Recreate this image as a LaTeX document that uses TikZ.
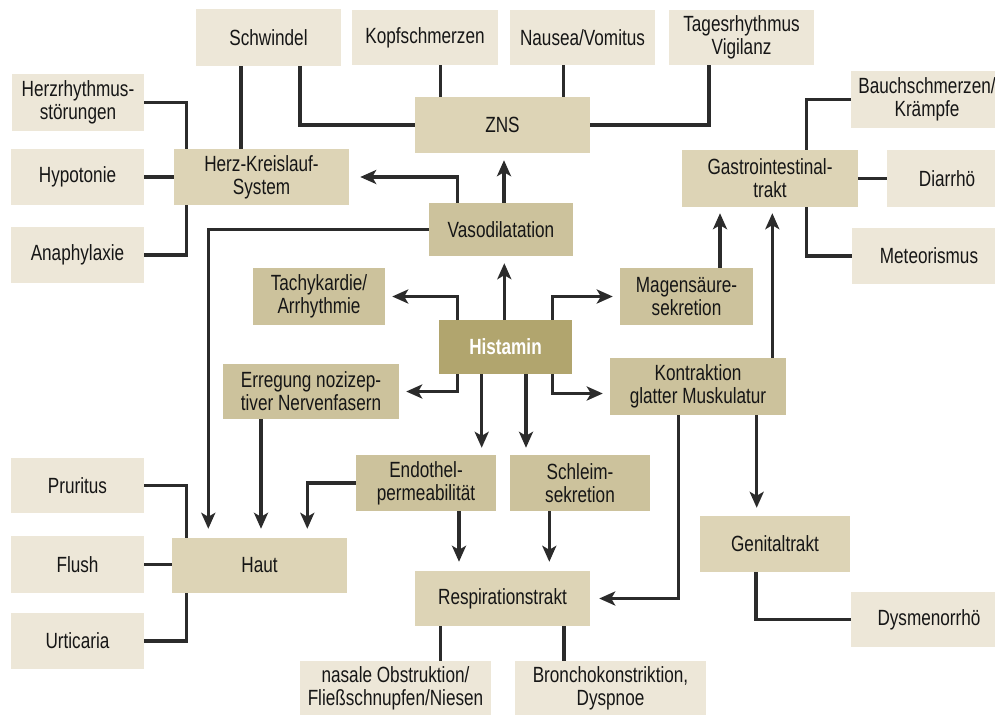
\documentclass[tikz,border=0pt]{standalone}
\usepackage{fontspec}
\setmainfont{Liberation Sans}[FakeStretch=0.78]
\usetikzlibrary{arrows.meta}
\definecolor{symc}{HTML}{EDE7D8}
\definecolor{orgc}{HTML}{DDD4B6}
\definecolor{mechc}{HTML}{CCC29C}
\definecolor{histc}{HTML}{B1A56E}
\definecolor{linec}{HTML}{2B2B2B}
\definecolor{txtc}{HTML}{161616}
\tikzset{
  box/.style={inner sep=0pt, align=center, text=txtc, font=\fontsize{22}{23}\selectfont},
  sym/.style={box, fill=symc},
  org/.style={box, fill=orgc},
  mech/.style={box, fill=mechc},
  histbox/.style={box, fill=histc, text=white, font=\fontsize{22}{23}\selectfont\bfseries},
  ln/.style={draw=linec, line width=3.2pt},
  arr/.style={ln, -{Stealth[length=16pt,width=14pt,inset=4pt]}, shorten >=7pt},
}
\begin{document}
\begin{tikzpicture}[x=1pt,y=-1pt]
\useasboundingbox (0,0) rectangle (995,715);
% outer symptom boxes
\node[sym, minimum width=145pt, minimum height=57pt] (schw) at (268.5,37.5) {Schwindel};
\node[sym, minimum width=146pt, minimum height=55pt] (kopf) at (425,37.5) {Kopfschmerzen};
\node[sym, minimum width=145pt, minimum height=55pt] (naus) at (582.5,37.5) {Nausea/Vomitus};
\node[sym, minimum width=145pt, minimum height=55pt] (tages) at (741.5,37.5) {Tagesrhythmus\\Vigilanz};
\node[sym, minimum width=132pt, minimum height=57pt] (hrs) at (78,102.5) {Herzrhythmus-\\störungen};
\node[sym, minimum width=133pt, minimum height=56pt] (hypo) at (77.5,177) {Hypotonie};
\node[sym, minimum width=133pt, minimum height=56pt] (ana) at (77.5,255) {Anaphylaxie};
\node[sym, minimum width=152pt, minimum height=57pt] (bauch) at (927,99.5) {Bauchschmerzen/\\Krämpfe};
\node[sym, minimum width=120pt, minimum height=57pt] (diar) at (947,178.5) {Diarrhö};
\node[sym, minimum width=154pt, minimum height=56pt] (meteo) at (929,256) {Meteorismus};
\node[sym, minimum width=133pt, minimum height=55pt] (prur) at (77.5,485.5) {Pruritus};
\node[sym, minimum width=133pt, minimum height=57pt] (flush) at (77.5,564.5) {Flush};
\node[sym, minimum width=133pt, minimum height=56pt] (urt) at (77.5,641) {Urticaria};
\node[sym, minimum width=191pt, minimum height=54pt] (nasal) at (395.5,688) {nasale Obstruktion/\\Fließschnupfen/Niesen};
\node[sym, minimum width=191pt, minimum height=54pt] (bronch) at (610.5,688) {Bronchokonstriktion,\\Dyspnoe};
\node[sym, minimum width=156pt, minimum height=55pt] (dysm) at (929,619.5) {Dysmenorrhö};
% organ boxes
\node[org, minimum width=175pt, minimum height=56pt] (hk) at (261.5,177) {Herz-Kreislauf-\\System};
\node[org, minimum width=175pt, minimum height=56pt] (zns) at (502.5,125) {ZNS};
\node[org, minimum width=176pt, minimum height=57pt] (gi) at (770,178.5) {Gastrointestinal-\\trakt};
\node[org, minimum width=175pt, minimum height=55pt] (haut) at (259.5,565.5) {Haut};
\node[org, minimum width=175pt, minimum height=55pt] (resp) at (502.5,598.5) {Respirationstrakt};
\node[org, minimum width=150pt, minimum height=56pt] (genit) at (775,544) {Genitaltrakt};
% mechanism boxes
\node[mech, minimum width=144pt, minimum height=53pt] (vaso) at (501,229.5) {Vasodilatation};
\node[mech, minimum width=132pt, minimum height=57pt] (tachy) at (319,296.5) {Tachykardie/\\Arrhythmie};
\node[mech, minimum width=133pt, minimum height=57pt] (magen) at (686.5,296.5) {Magensäure-\\sekretion};
\node[mech, minimum width=176pt, minimum height=55pt] (erreg) at (311,391.5) {Erregung nozizep-\\tiver Nervenfasern};
\node[mech, minimum width=176pt, minimum height=57pt] (kontr) at (698,386.5) {Kontraktion\\glatter Muskulatur};
\node[mech, minimum width=140pt, minimum height=56pt] (endo) at (426,483) {Endothel-\\permeabilität};
\node[mech, minimum width=140pt, minimum height=56pt] (schl) at (580,483) {Schleim-\\sekretion};
\node[histbox, minimum width=133pt, minimum height=54pt] (hist) at (505.5,347) {Histamin};
% plain connectors
\draw[ln] (schw.south -| 241,0) -- (hk.north -| 241,0);
\draw[ln] (schw.south -| 300,0) |- (zns.west);
\draw[ln] (kopf.south -| 440.7,0) -- (zns.north -| 440.7,0);
\draw[ln] (naus.south -| 563.3,0) -- (zns.north -| 563.3,0);
\draw[ln] (tages.south -| 709,0) |- (zns.east);
\draw[ln] (hrs.east) -| (hk.north -| 186.7,0);
\draw[ln] (hypo.east) -- (hk.west);
\draw[ln] (ana.east) -| (hk.south -| 186.7,0);
\draw[ln] (bauch.west) -| (gi.north -| 806.7,0);
\draw[ln] (diar.west) -- (gi.east);
\draw[ln] (meteo.west) -| (gi.south -| 806.7,0);
\draw[ln] (prur.east) -| (haut.north -| 186.7,0);
\draw[ln] (flush.east) -- (flush.east -| haut.west);
\draw[ln] (urt.east) -| (haut.south -| 186.7,0);
\draw[ln] (resp.south -| 440.7,0) -- (nasal.north -| 440.7,0);
\draw[ln] (resp.south -| 564,0) -- (bronch.north -| 564,0);
\draw[ln] (dysm.west) -| (genit.south -| 756,0);
% arrows
\draw[arr, shorten >=11pt] (vaso.north -| 457.3,0) |- (hk.east);
\draw[arr] (vaso.north -| 504,0) -- (zns.south -| 504,0);
\draw[arr, shorten >=9pt] (vaso.west) -| (haut.north -| 208.3,0);
\draw[arr] (hist.north -| 504.3,0) -- (vaso.south -| 504.3,0);
\draw[arr] (hist.north -| 457.7,0) |- (tachy.east);
\draw[arr] (hist.north -| 552.3,0) |- (magen.west);
\draw[arr] (hist.south -| 457.7,0) |- (erreg.east);
\draw[arr] (hist.south -| 552.3,0) |- ([yshift=-7pt]kontr.west);
\draw[arr] (hist.south -| 481.7,0) -- (endo.north -| 481.7,0);
\draw[arr] (hist.south -| 526,0) -- (schl.north -| 526,0);
\draw[arr, shorten >=6pt] (magen.north -| 720,0) -- (gi.south -| 720,0);
\draw[arr, shorten >=6pt] (kontr.north -| 772.3,0) -- (gi.south -| 772.3,0);
\draw[arr, shorten >=8pt] (kontr.south -| 756.7,0) -- (genit.north -| 756.7,0);
\draw[arr, shorten >=9pt] (kontr.south -| 678.3,0) |- (resp.east);
\draw[arr, shorten >=9pt] (erreg.south -| 261,0) -- (haut.north -| 261,0);
\draw[arr, shorten >=9pt] (endo.west) -| (haut.north -| 307.3,0);
\draw[arr, shorten >=9pt] (endo.south -| 459,0) -- (resp.north -| 459,0);
\draw[arr, shorten >=9pt] (schl.south -| 549.3,0) -- (resp.north -| 549.3,0);
\end{tikzpicture}
\end{document}
